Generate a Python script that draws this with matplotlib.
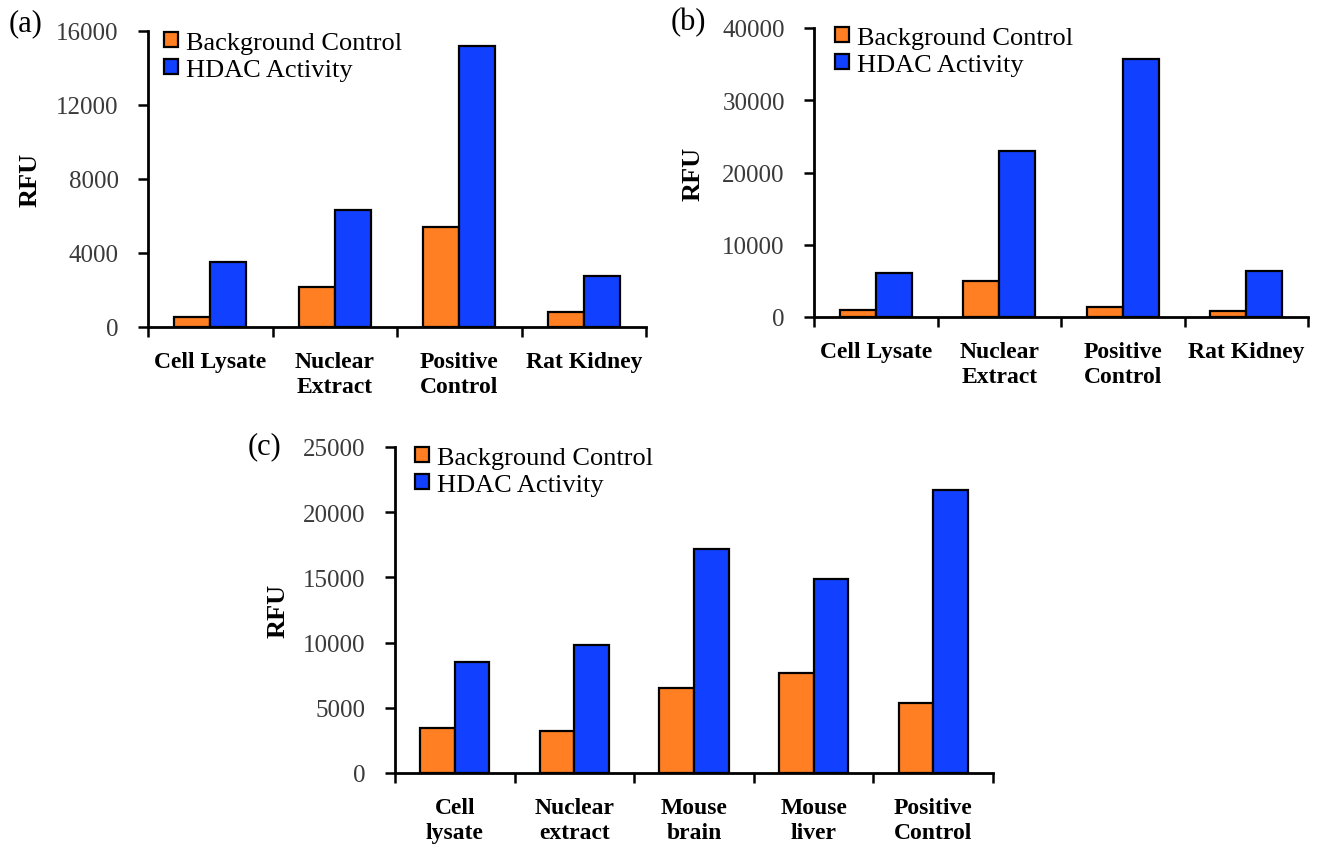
import matplotlib
matplotlib.use("Agg")
import matplotlib.pyplot as plt
import numpy as np

plt.rcParams['font.family'] = ['Liberation Serif', 'DejaVu Serif']

series_names = ["Background Control", "HDAC Activity"]
colors = ["#FF7F22", "#1240FF"]

cats_a = ["Cell Lysate", "Nuclear\nExtract", "Positive\nControl", "Rat Kidney"]
bg_a = [520, 2150, 5400, 790]
hdac_a = [3520, 6310, 15180, 2770]

cats_b = ["Cell Lysate", "Nuclear\nExtract", "Positive\nControl", "Rat Kidney"]
bg_b = [1000, 4950, 1350, 800]
hdac_b = [6100, 23000, 35700, 6400]

cats_c = ["Cell\nlysate", "Nuclear\nextract", "Mouse\nbrain", "Mouse\nliver", "Positive\nControl"]
bg_c = [3450, 3250, 6550, 7650, 5400]
hdac_c = [8550, 9850, 17200, 14850, 21700]

W, H = 1318, 853
fig = plt.figure(figsize=(W / 100, H / 100), dpi=100)


def make_axes(x0, x1, y0, y1):
    return fig.add_axes([x0 / W, 1 - y0 / H, (x1 - x0) / W, (y0 - y1) / H])


def panel(ax, cats, bg, hdac, ymax, step, tag, tagxy, rfu_x, leg_xy):
    n = len(cats)
    x = np.arange(n)
    bw = 0.29
    ax.bar(x - bw / 2, bg, bw, color=colors[0], edgecolor="black", linewidth=1.6,
           label=series_names[0], zorder=3)
    ax.bar(x + bw / 2, hdac, bw, color=colors[1], edgecolor="black", linewidth=1.6,
           label=series_names[1], zorder=3)
    ax.set_xlim(-0.5, n - 0.5)
    ax.set_ylim(0, ymax)
    ax.set_yticks(np.arange(0, ymax + 1, step))
    ax.set_xticks(x)
    ax.set_xticklabels(cats, fontweight="bold", fontsize=17, linespacing=1.25)
    ax.set_xticks(np.arange(-0.5, n, 1.0), minor=True)
    ax.tick_params(axis="x", which="major", length=0, pad=17)
    ax.tick_params(axis="x", which="minor", length=7, width=1.8, direction="out")
    ax.tick_params(axis="y", length=7, width=1.8, direction="out", labelsize=18,
                   labelcolor="#3a3a3a", pad=14)
    for s in ["top", "right"]:
        ax.spines[s].set_visible(False)
    for s in ["left", "bottom"]:
        ax.spines[s].set_linewidth(2.0)
    ax.legend(loc="upper left", bbox_to_anchor=(leg_xy[0] / W, 1 - leg_xy[1] / H),
              bbox_transform=fig.transFigure, frameon=False, fontsize=19,
              handlelength=0.52, handleheight=0.52, handletextpad=0.3,
              labelspacing=0.18, borderaxespad=0, borderpad=0)
    fig.text(tagxy[0] / W, 1 - tagxy[1] / H, tag, fontsize=22, ha="left", va="center")
    fig.text(rfu_x / W, ax.get_position().y0 + ax.get_position().height / 2, "RFU",
             rotation=90, fontsize=19, fontweight="bold", ha="center", va="center")


ax_a = make_axes(148, 646, 328, 32)
panel(ax_a, cats_a, bg_a, hdac_a, 16000, 4000, "(a)", (9, 24), 30, (164, 33))

ax_b = make_axes(814, 1308, 318, 29)
panel(ax_b, cats_b, bg_b, hdac_b, 40000, 10000, "(b)", (671, 23), 693, (835, 28))

ax_c = make_axes(395, 993, 774, 448)
panel(ax_c, cats_c, bg_c, hdac_c, 25000, 5000, "(c)", (248, 447), 278, (415, 448))

fig.savefig("out.png", dpi=100)
